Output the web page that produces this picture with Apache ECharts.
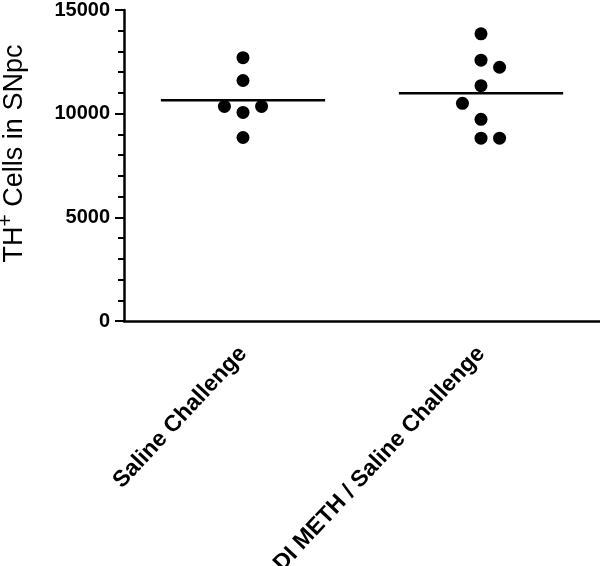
<!DOCTYPE html>
<html>
<head>
<meta charset="utf-8">
<script src="https://cdn.jsdelivr.net/npm/echarts@6/dist/echarts.min.js"></script>
<style>
  html, body { margin: 0; padding: 0; background: #fff; }
  #chart { width: 600px; height: 566px; }
</style>
</head>
<body>
<div id="chart"></div>
<script>
// groups on the x axis
const categories = ['Saline Challenge', 'DI METH / Saline Challenge']

// TH+ cell counts per animal
const salineValues = [12700, 11600, 10350, 10350, 10060, 8850]
const methValues = [13850, 12580, 12240, 11350, 10500, 9725, 8820, 8820]

// side-by-side column of each dot (-1 left, 0 centre, 1 right)
const salineCols = [0, 0, -1, 1, 0, 0]
const methCols = [0, 0, 1, 0, -1, 0, 0, 1]

const yTicks = [0, 5000, 10000, 15000]

const JITTER = 0.078
const HALF_LINE = 0.345
const FONT = 'Liberation Sans, Arial, sans-serif'

function mean(arr) {
  return arr.reduce((a, b) => a + b, 0) / arr.length
}

function dots(values, cols, idx) {
  return values.map((v, i) => [idx + 0.5 + cols[i] * JITTER, v])
}

function meanLine(values, idx) {
  const m = mean(values)
  return [[idx + 0.5 - HALF_LINE, m], [idx + 0.5 + HALF_LINE, m]]
}

const chart = echarts.init(document.getElementById('chart'))

chart.setOption({
  animation: false,
  grid: {
    left: 124,
    right: 0,
    top: 10,
    bottom: 245,
    containLabel: false,
    outerBoundsMode: 'none'
  },
  xAxis: [
    {
      type: 'category',
      data: categories,
      boundaryGap: true,
      axisLine: { lineStyle: { color: '#000', width: 2.5 } },
      axisTick: { alignWithLabel: true, length: 9, lineStyle: { color: '#000', width: 2 } },
      axisLabel: {
        rotate: 47,
        interval: 0,
        margin: 29,
        color: '#000',
        fontFamily: FONT,
        fontWeight: 'bold',
        fontSize: 23
      }
    },
    {
      type: 'value',
      min: 0,
      max: 2,
      show: false
    }
  ],
  yAxis: {
    type: 'value',
    min: yTicks[0],
    max: yTicks[yTicks.length - 1],
    interval: 5000,
    name: 'TH{sup|+} Cells in SNpc',
    nameLocation: 'middle',
    nameGap: 91,
    nameTextStyle: {
      color: '#000',
      fontFamily: FONT,
      fontSize: 27,
      padding: [0, 0, 0, 24],
      rich: {
        sup: {
          fontSize: 21,
          fontFamily: FONT,
          color: '#000',
          verticalAlign: 'top',
          padding: [0, 0, 16, 0]
        }
      }
    },
    splitLine: { show: false },
    axisLine: { show: true, lineStyle: { color: '#000', width: 2.5 } },
    axisTick: { show: true, length: 9, lineStyle: { color: '#000', width: 2 } },
    minorTick: { show: true, splitNumber: 5, length: 6, lineStyle: { color: '#000', width: 2 } },
    axisLabel: {
      margin: 14,
      color: '#000',
      fontFamily: FONT,
      fontWeight: 'bold',
      fontSize: 20,
      formatter: v => String(v)
    }
  },
  series: [
    {
      type: 'scatter',
      xAxisIndex: 1,
      symbolSize: 13,
      itemStyle: { color: '#000', opacity: 1 },
      data: dots(salineValues, salineCols, 0)
    },
    {
      type: 'scatter',
      xAxisIndex: 1,
      symbolSize: 13,
      itemStyle: { color: '#000', opacity: 1 },
      data: dots(methValues, methCols, 1)
    },
    {
      type: 'line',
      xAxisIndex: 1,
      symbol: 'none',
      lineStyle: { color: '#000', width: 2.5 },
      data: meanLine(salineValues, 0)
    },
    {
      type: 'line',
      xAxisIndex: 1,
      symbol: 'none',
      lineStyle: { color: '#000', width: 2.5 },
      data: meanLine(methValues, 1)
    }
  ]
})
</script>
</body>
</html>
